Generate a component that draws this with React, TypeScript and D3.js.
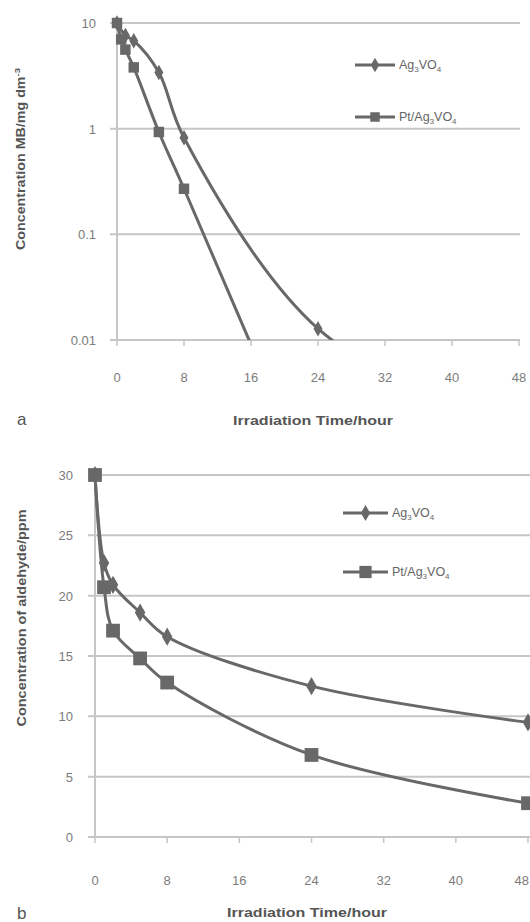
import React from 'react';
import * as d3 from 'd3';

// ---------- data ----------
const xTicks = [0, 8, 16, 24, 32, 40, 48];

// panel a (log scale, methylene blue)
const timeA_Ag = [0, 1, 2, 5, 8, 24, 48];
const concA_Ag = [10, 7.6, 6.8, 3.4, 0.82, 0.0128, 0.0012];
const timeA_Pt = [0, 0.5, 1, 2, 5, 8, 24];
const concA_Pt = [10, 7, 5.6, 3.8, 0.93, 0.27, 0.0003];
const yTicksA = [0.01, 0.1, 1, 10];
const yTickLabelsA = ['0.01', '0.1', '1', '10'];

// panel b (linear, aldehyde)
const timeB = [0, 1, 2, 5, 8, 24, 48];
const concB_Ag = [30, 22.7, 20.9, 18.6, 16.6, 12.5, 9.5];
const concB_Pt = [30, 20.7, 17.1, 14.8, 12.8, 6.8, 2.8];
const yTicksB = [0, 5, 10, 15, 20, 25, 30];

const seriesNames = ['Ag3VO4', 'Pt/Ag3VO4'];

const INK = '#686868';
const GRID = '#c6c6c6';
const TICK = '#7c7c7c';
const FONT = 'Liberation Sans, Arial, sans-serif';

function Legend({ x, y1, y2, lineLen, sq, dm }: any) {
  const diamond = d3.symbol(d3.symbolDiamond, dm)();
  const square = d3.symbol(d3.symbolSquare, sq)();
  const items = [
    { y: y1, path: diamond, pre: '' },
    { y: y2, path: square, pre: 'Pt/' },
  ];
  return (
    <g>
      {items.map((it, i) => (
        <g key={i}>
          <line x1={x} x2={x + lineLen} y1={it.y} y2={it.y} stroke={INK} strokeWidth={3} />
          <path d={it.path || ''} transform={`translate(${x + lineLen / 2},${it.y})`} fill={INK} />
          <text x={x + lineLen + 4} y={it.y + 4} fontFamily={FONT} fontSize={12.5} fill="#666">
            {it.pre}Ag<tspan fontSize={8} dy={3}>3</tspan>
            <tspan dy={-3}>VO</tspan>
            <tspan fontSize={8} dy={3}>4</tspan>
          </text>
        </g>
      ))}
    </g>
  );
}

function tickAnchor(px: number) {
  return px + 9 > 530 ? { x: 529, anchor: 'end' } : { x: px, anchor: 'middle' };
}

function PanelA() {
  const x = d3.scaleLinear().domain([0, 48]).range([117, 519]);
  const y = d3.scaleLog().domain([0.01, 10]).range([340, 23]);
  const line = d3
    .line<[number, number]>()
    .x((d) => x(d[0]))
    .y((d) => y(d[1]))
    .curve(d3.curveCatmullRom.alpha(0.5));
  const ag: [number, number][] = timeA_Ag.map((t, i) => [t, concA_Ag[i]]);
  const pt: [number, number][] = timeA_Pt.map((t, i) => [t, concA_Pt[i]]);
  const diamond = d3.symbol(d3.symbolDiamond, 70)();
  const square = d3.symbol(d3.symbolSquare, 110)();
  return (
    <g>
      <defs>
        <clipPath id="clipA">
          <rect x={100} y={0} width={430} height={340} />
        </clipPath>
      </defs>
      {yTicksA.map((t, i) => (
        <g key={t}>
          <line x1={110} x2={520} y1={y(t)} y2={y(t)} stroke={GRID} strokeWidth={2} />
          <text x={96} y={y(t) + 5} textAnchor="end" fontFamily={FONT} fontSize={13} fill={TICK}>
            {yTickLabelsA[i]}
          </text>
        </g>
      ))}
      <line x1={x(0)} x2={x(0)} y1={y(10)} y2={y(0.01)} stroke={GRID} strokeWidth={2} />
      {xTicks.map((t) => {
        const a = tickAnchor(x(t));
        return (
          <g key={t}>
            <line x1={x(t)} x2={x(t)} y1={340} y2={346} stroke={GRID} strokeWidth={1.5} />
            <text x={a.x} y={382} textAnchor={a.anchor} fontFamily={FONT} fontSize={13} fill={TICK}>
              {t}
            </text>
          </g>
        );
      })}
      <g clipPath="url(#clipA)">
        <path d={line(ag) || ''} fill="none" stroke={INK} strokeWidth={3} />
        <path d={line(pt) || ''} fill="none" stroke={INK} strokeWidth={3} />
      </g>
      {ag.filter((d) => d[1] >= 0.01).map((d, i) => (
        <path key={'a' + i} d={diamond || ''} transform={`translate(${x(d[0])},${y(d[1])})`} fill={INK} />
      ))}
      {pt.filter((d) => d[1] >= 0.01).map((d, i) => (
        <path key={'p' + i} d={square || ''} transform={`translate(${x(d[0])},${y(d[1])})`} fill={INK} />
      ))}
      <Legend x={355} y1={65} y2={117} lineLen={40} sq={90} dm={60} />
      <text
        transform="translate(25,159) rotate(-90)"
        textAnchor="middle"
        fontFamily={FONT}
        fontSize={12}
        fontWeight="bold"
        fill="#555"
        textLength={182}
        lengthAdjust="spacingAndGlyphs"
      >
        Concentration MB/mg dm<tspan fontSize={8} dy={-5}>-3</tspan>
      </text>
      <text
        x={313}
        y={425}
        textAnchor="middle"
        fontFamily={FONT}
        fontSize={12.5}
        fontWeight="bold"
        fill="#555"
        textLength={160}
        lengthAdjust="spacingAndGlyphs"
      >
        Irradiation Time/hour
      </text>
      <text x={17} y={425} fontFamily={FONT} fontSize={17} fill="#555">
        a
      </text>
    </g>
  );
}

function PanelB() {
  const x = d3.scaleLinear().domain([0, 48]).range([95, 528]);
  const y = d3.scaleLinear().domain([0, 30]).range([837, 475]);
  const line = d3
    .line<[number, number]>()
    .x((d) => x(d[0]))
    .y((d) => y(d[1]))
    .curve(d3.curveCatmullRom.alpha(0.5));
  const ag: [number, number][] = timeB.map((t, i) => [t, concB_Ag[i]]);
  const pt: [number, number][] = timeB.map((t, i) => [t, concB_Pt[i]]);
  const diamond = d3.symbol(d3.symbolDiamond, 95)();
  const square = d3.symbol(d3.symbolSquare, 190)();
  return (
    <g>
      {yTicksB.map((t) => (
        <g key={t}>
          <line x1={88} x2={530} y1={y(t)} y2={y(t)} stroke={GRID} strokeWidth={2} />
          <text x={73} y={y(t) + 5} textAnchor="end" fontFamily={FONT} fontSize={13} fill={TICK}>
            {t}
          </text>
        </g>
      ))}
      <line x1={x(0)} x2={x(0)} y1={y(30)} y2={y(0)} stroke={GRID} strokeWidth={2} />
      {xTicks.map((t) => {
        const a = tickAnchor(x(t));
        return (
          <g key={t}>
            <line x1={x(t)} x2={x(t)} y1={837} y2={843} stroke={GRID} strokeWidth={1.5} />
            <text x={a.x} y={885} textAnchor={a.anchor} fontFamily={FONT} fontSize={13} fill={TICK}>
              {t}
            </text>
          </g>
        );
      })}
      <path d={line(ag) || ''} fill="none" stroke={INK} strokeWidth={3} />
      <path d={line(pt) || ''} fill="none" stroke={INK} strokeWidth={3} />
      {ag.map((d, i) => (
        <path key={'a' + i} d={diamond || ''} transform={`translate(${x(d[0])},${y(d[1])})`} fill={INK} />
      ))}
      {pt.map((d, i) => (
        <path key={'p' + i} d={square || ''} transform={`translate(${x(d[0])},${y(d[1])})`} fill={INK} />
      ))}
      <Legend x={343} y1={513} y2={572} lineLen={45} sq={150} dm={75} />
      <text
        transform="translate(26,618) rotate(-90)"
        textAnchor="middle"
        fontFamily={FONT}
        fontSize={12}
        fontWeight="bold"
        fill="#555"
        textLength={217}
        lengthAdjust="spacingAndGlyphs"
      >
        Concentration of aldehyde/ppm
      </text>
      <text
        x={307}
        y={917}
        textAnchor="middle"
        fontFamily={FONT}
        fontSize={12.5}
        fontWeight="bold"
        fill="#555"
        textLength={160}
        lengthAdjust="spacingAndGlyphs"
      >
        Irradiation Time/hour
      </text>
      <text x={17} y={919} fontFamily={FONT} fontSize={17} fill="#555">
        b
      </text>
    </g>
  );
}

export default function App() {
  return (
    <svg
      width={530}
      height={922}
      style={{ position: 'absolute', left: 0, top: 0, background: '#fff' }}
      aria-label={seriesNames.join(' vs ')}
    >
      <PanelA />
      <PanelB />
    </svg>
  );
}
